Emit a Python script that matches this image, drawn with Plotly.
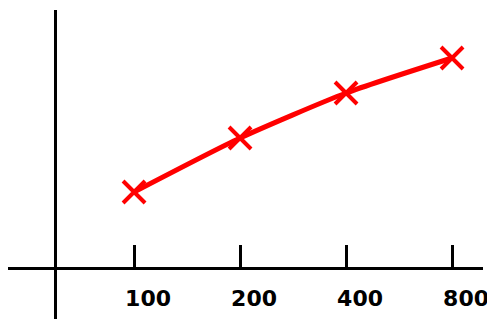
import plotly.graph_objects as go

x_values = [100, 200, 400, 800]
y_values = [1.52, 2.6, 3.5, 4.2]
tick_vals = [100, 200, 400, 800]
tick_text = ["100", "200", "400", "800"]

fig = go.Figure()
fig.add_trace(go.Scatter(
    x=x_values, y=y_values,
    mode="lines+markers",
    line=dict(color="#ff0000", width=5, shape="spline", smoothing=0.6),
    marker=dict(symbol="x-thin", size=22, line=dict(color="#ff0000", width=4)),
    showlegend=False,
))

fig.update_layout(
    width=495, height=319,
    margin=dict(l=0, r=20, t=2, b=8),
    paper_bgcolor="white", plot_bgcolor="white",
    xaxis=dict(
        type="log", range=[1.642, 2.991],
        anchor="free", position=0.165,
        showline=True, linecolor="black", linewidth=3,
        showgrid=False, zeroline=False,
        tickmode="array", tickvals=tick_vals, ticktext=tick_text,
        ticks="inside", ticklen=22, tickwidth=3, tickcolor="black",
        tickfont=dict(family="DejaVu Sans", size=22, color="black", weight="bold"),
        ticklabelstandoff=10, ticklabelshift=14,
    ),
    yaxis=dict(
        range=[-1.02, 5.16],
        anchor="free", position=0.099,
        showline=True, linecolor="black", linewidth=3,
        showgrid=False, zeroline=False,
        showticklabels=False, ticks="",
    ),
)

fig.write_html("out.html")
